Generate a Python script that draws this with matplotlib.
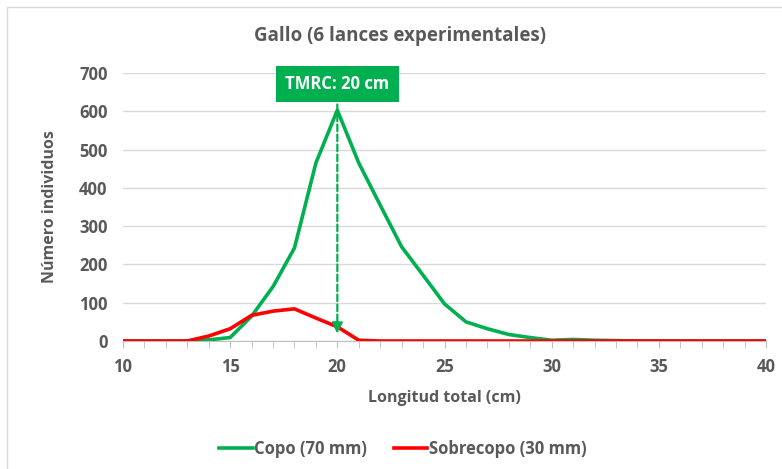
import matplotlib.pyplot as plt
from matplotlib.patches import Rectangle

plt.rcParams['font.family'] = ['Open Sans', 'DejaVu Sans']

longitud = list(range(10, 41))
copo = [0, 0, 0, 0, 3, 9, 65, 142, 243, 465, 603, 465, 355, 246, 172, 97,
        50, 32, 17, 9, 2, 4, 2, 1, 0, 0, 0, 0, 0, 0, 0]
sobrecopo = [0, 0, 0, 0, 13, 32, 67, 78, 84, 60, 37, 2, 0, 0, 0, 0,
             0, 0, 0, 0, 0, 0, 0, 0, 0, 0, 0, 0, 0, 0, 0]
tmrc = 20

gris = '#595959'
verde = '#00B050'
rojo = '#FF0000'

fig = plt.figure(figsize=(7.82, 4.69), dpi=100)
ax = fig.add_axes([123 / 782, 1 - 341 / 469, 643 / 782, 268 / 469])

# marco del grafico
fig.patches.append(Rectangle((7 / 782, -0.1), 1.2, 1 - 7 / 469 + 0.1,
                             transform=fig.transFigure, fill=False,
                             edgecolor='#d9d9d9', lw=1))

ax.plot(longitud, copo, color=verde, lw=2.6, label='Copo (70 mm)', zorder=3)
ax.plot(longitud, sobrecopo, color=rojo, lw=2.6, label='Sobrecopo (30 mm)', zorder=3)

ax.set_xlim(10, 40)
ax.set_ylim(0, 700)
ax.set_xticks(range(10, 41, 5))
ax.set_xticks(range(10, 41), minor=True)
ax.set_yticks(range(0, 701, 100))
ax.grid(axis='y', color='#d9d9d9', lw=1)
ax.set_axisbelow(True)
for s in ['top', 'right', 'left']:
    ax.spines[s].set_visible(False)
ax.spines['bottom'].set_color('#bfbfbf')
ax.tick_params(axis='y', length=0, pad=11, labelsize=12, labelcolor=gris)
ax.tick_params(axis='x', which='major', length=5, color='#bfbfbf', pad=7,
               labelsize=12, labelcolor=gris)
ax.tick_params(axis='x', which='minor', length=5, color='#bfbfbf')
for t in ax.get_xticklabels() + ax.get_yticklabels():
    t.set_fontweight('bold')

ax.set_xlabel('Longitud total (cm)', fontsize=11.5, fontweight='bold', color=gris, labelpad=10)
ax.set_ylabel('Número individuos', fontsize=11.5, fontweight='bold', color=gris, labelpad=15)
fig.text(400 / 782, 1 - 36 / 469, 'Gallo (6 lances experimentales)', ha='center', va='center',
         fontsize=13.5, fontweight='bold', color=gris)

# flecha TMRC
ax.annotate('', xy=(tmrc, 12), xytext=(tmrc, 625),
            arrowprops=dict(arrowstyle='-|>', color=verde, lw=1.6, ls=(0, (3, 1.5)),
                            mutation_scale=16), zorder=4)
ax.text(tmrc, 672, 'TMRC: 20 cm', ha='center', va='center', fontsize=12,
        fontweight='bold', color='white', zorder=5, clip_on=False,
        bbox=dict(boxstyle='square,pad=0.55', facecolor=verde, edgecolor='none'))

fig.legend(loc='center', bbox_to_anchor=(403 / 782, 1 - 449 / 469), ncol=2, frameon=False,
           handlelength=2.0, handletextpad=0.1, columnspacing=1.6,
           labelcolor=gris, prop={'weight': 'bold', 'size': 12})

fig.savefig('out.png', dpi=100)
